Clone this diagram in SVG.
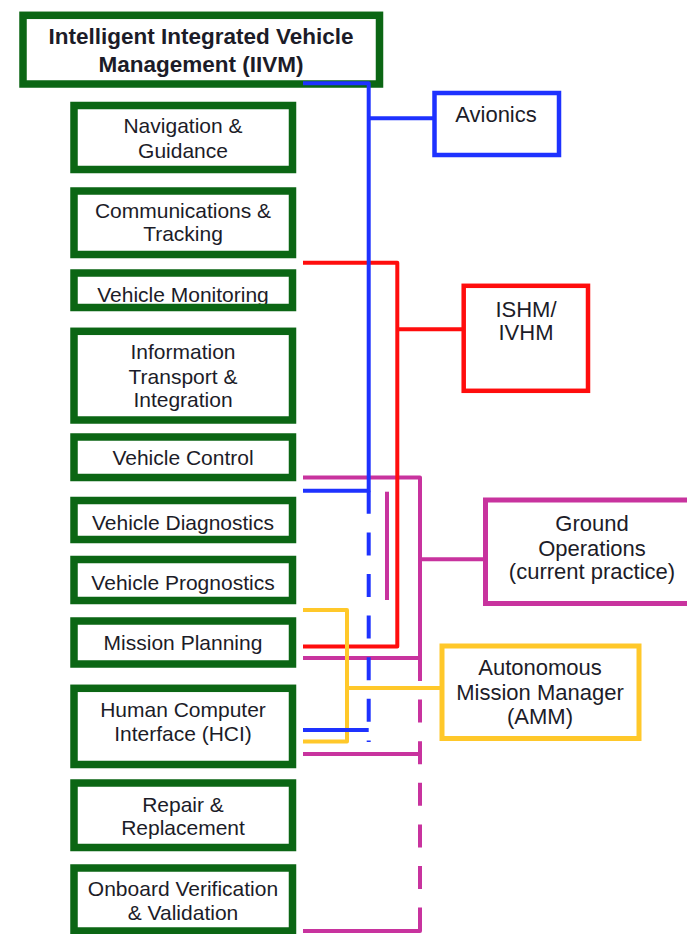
<svg xmlns="http://www.w3.org/2000/svg" width="687" height="934" viewBox="0 0 687 934">
<style>
.gbox{fill:none;stroke:#0b6614;stroke-width:7.5}
.t{font-family:"Liberation Sans",Arial,sans-serif;font-size:21px;fill:#1c1c28;text-anchor:middle}
.tr{font-family:"Liberation Sans",Arial,sans-serif;font-size:22px;fill:#1c1c28;text-anchor:middle}
.tb{font-family:"Liberation Sans",Arial,sans-serif;font-size:22.5px;font-weight:bold;fill:#1c1c28;text-anchor:middle}
.c{fill:none;stroke-width:4;stroke-linejoin:round}
.blue{stroke:#1e32ff}
.red{stroke:#ff0d0d}
.mag{stroke:#c8339e}
.yel{stroke:#ffc82a}
.dash{stroke-dasharray:23 18.6}
</style>
<rect width="687" height="934" fill="#fff"/>
<g id="iivm">
<text class="tb" x="201" y="43.5">Intelligent Integrated Vehicle</text>
<text class="tb" x="201" y="71.5">Management (IIVM)</text>
<rect class="gbox" x="23" y="15.3" width="356.5" height="68.7"/>
</g>
<g id="nav">
<text class="t" x="183" y="133">Navigation &amp;</text>
<text class="t" x="183" y="158">Guidance</text>
<rect class="gbox" x="74" y="105.5" width="218.5" height="64"/>
</g>
<g id="comm">
<text class="t" x="183" y="218">Communications &amp;</text>
<text class="t" x="183" y="241">Tracking</text>
<rect class="gbox" x="74" y="191" width="218.5" height="63.5"/>
</g>
<g id="vmon">
<text class="t" x="183" y="301.5">Vehicle Monitoring</text>
<rect class="gbox" x="74" y="273" width="218.5" height="34.5"/>
</g>
<g id="info">
<text class="t" x="183" y="359">Information</text>
<text class="t" x="183" y="384">Transport &amp;</text>
<text class="t" x="183" y="407">Integration</text>
<rect class="gbox" x="74" y="331.3" width="218.5" height="88.7"/>
</g>
<g id="vctrl">
<text class="t" x="183" y="465">Vehicle Control</text>
<rect class="gbox" x="74" y="437" width="218.5" height="40.5"/>
</g>
<g id="vdiag">
<text class="t" x="183" y="529.5">Vehicle Diagnostics</text>
<rect class="gbox" x="74" y="500.5" width="218.5" height="39"/>
</g>
<g id="vprog">
<text class="t" x="183" y="589.5">Vehicle Prognostics</text>
<rect class="gbox" x="74" y="559.5" width="218.5" height="41"/>
</g>
<g id="mplan">
<text class="t" x="183" y="650">Mission Planning</text>
<rect class="gbox" x="74" y="621" width="218.5" height="43"/>
</g>
<g id="hci">
<text class="t" x="183" y="717">Human Computer</text>
<text class="t" x="183" y="741">Interface (HCI)</text>
<rect class="gbox" x="74" y="688.3" width="218.5" height="76.2"/>
</g>
<g id="repair">
<text class="t" x="183" y="812">Repair &amp;</text>
<text class="t" x="183" y="835">Replacement</text>
<rect class="gbox" x="74" y="783" width="218.5" height="64.5"/>
</g>
<g id="onboard">
<text class="t" x="183" y="896">Onboard Verification</text>
<text class="t" x="183" y="919.5">&amp; Validation</text>
<rect class="gbox" x="74" y="868" width="218.5" height="63"/>
</g>
<g id="avionics">
<rect x="434.5" y="93" width="124.5" height="62" fill="none" stroke="#1e32ff" stroke-width="4.5"/>
<text class="tr" x="496" y="121.5">Avionics</text>
</g>
<g id="ishm">
<rect x="463.7" y="285.8" width="124.3" height="105" fill="none" stroke="#ff0d0d" stroke-width="4.5"/>
<text class="tr" x="526" y="316.5">ISHM/</text>
<text class="tr" x="526" y="339.5">IVHM</text>
</g>
<g id="groundops">
<rect x="485.5" y="500" width="210" height="103.5" fill="none" stroke="#c8339e" stroke-width="5"/>
<text class="tr" x="592" y="531">Ground</text>
<text class="tr" x="592" y="555.5">Operations</text>
<text class="tr" x="592" y="578.5">(current practice)</text>
</g>
<g id="amm">
<rect x="442" y="646" width="197" height="92.5" fill="none" stroke="#ffc82a" stroke-width="5"/>
<text class="tr" x="540" y="675">Autonomous</text>
<text class="tr" x="540" y="700">Mission Manager</text>
<text class="tr" x="540" y="724">(AMM)</text>
</g>
<g id="connectors">
<path class="c mag" d="M303,477.5 H420 V658 H303"/>
<path class="c mag" d="M420,559.3 H485.5"/>
<path class="c mag" d="M387,491.7 V600"/>
<path class="c mag dash" d="M420,658 V931"/>
<path class="c mag" d="M303,754 H420"/>
<path class="c mag" d="M420,929 V931 H303"/>
<path class="c red" d="M303,262.7 H397.3 V646.5 H303"/>
<path class="c red" d="M397.3,329.3 H463.7"/>
<path class="c yel" d="M303,610 H347 V741.5 H303"/>
<path class="c yel" d="M347,688 H442"/>
<path class="c blue" d="M303,83.3 H368.7 V490.8 H303"/>
<path class="c blue" d="M368.7,118.3 H434.5"/>
<path class="c blue dash" d="M368.7,490.8 V742"/>
<path class="c blue" d="M303,730 H368.7"/>
</g>
</svg>
